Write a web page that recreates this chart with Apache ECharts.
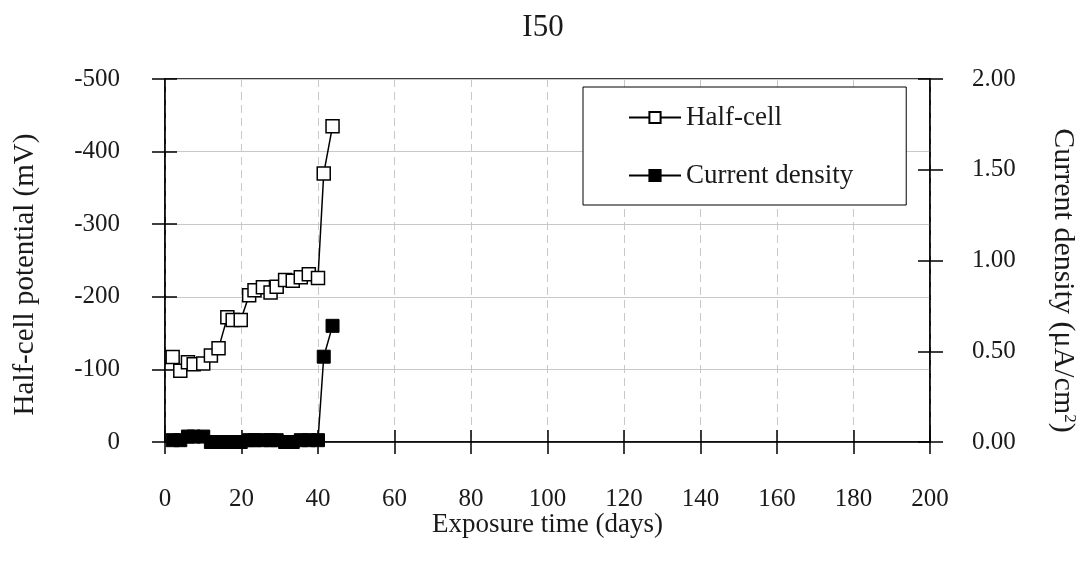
<!DOCTYPE html>
<html>
<head>
<meta charset="utf-8">
<script src="https://cdn.jsdelivr.net/npm/echarts@6/dist/echarts.min.js"></script>
<style>
  html, body { margin: 0; padding: 0; background: #fff; }
  #chart { width: 1086px; height: 574px; }
</style>
</head>
<body>
<div id="chart"></div>
<script>
// exposure days of each reading
const days = [2, 4, 6, 7.5, 10, 12, 14, 16.3, 17.7, 19.8, 22, 23.4, 25.6, 27.6, 29.2, 31.4, 33.4, 35.5, 37.6, 40, 41.5, 43.8]
// half-cell potential, mV
const halfCell = [-117, -98, -110, -107, -108, -119, -129, -172, -168, -168, -202, -209, -213, -206, -214, -223, -222, -227, -231, -226, -370, -435]
// current density, uA/cm2
const currentDensity = [0.01, 0.01, 0.03, 0.03, 0.03, 0, 0, 0, 0, 0, 0.01, 0.01, 0.01, 0.01, 0.01, 0, 0, 0.01, 0.01, 0.01, 0.47, 0.64]

const FONT = 'Liberation Serif'
const TXT = '#1a1a1a'

const pairs = (xs, ys) => xs.map((x, i) => [x, ys[i]])

const chart = echarts.init(document.getElementById('chart'))

// second copy of an axis, only to draw the inner half of the crossing ticks
const tickOnly = (extra) => Object.assign({
  type: 'value',
  axisLine: { show: false },
  axisLabel: { show: false },
  splitLine: { show: false },
  axisTick: { show: true, inside: true, length: 12, lineStyle: { color: '#000', width: 1.5 } }
}, extra)

chart.setOption({
  animation: false,
  title: {
    text: 'I50',
    left: 'center',
    top: 7,
    textStyle: { fontFamily: FONT, fontSize: 31, fontWeight: 'normal', color: TXT }
  },
  legend: {
    orient: 'vertical',
    left: 583,
    top: 87,
    padding: [17, 53, 16, 45],
    itemGap: 31,
    itemWidth: 52,
    itemHeight: 14,
    borderColor: '#000',
    borderWidth: 1,
    backgroundColor: '#fff',
    textStyle: { fontFamily: FONT, fontSize: 27, color: TXT },
    data: ['Half-cell', 'Current density']
  },
  grid: {
    left: 165, right: 156, top: 79, bottom: 132,
    show: true, borderColor: '#000', borderWidth: 1.5
  },
  xAxis: [{
    type: 'value',
    min: 0, max: 200, interval: 20,
    name: 'Exposure time (days)',
    nameLocation: 'middle',
    nameGap: 69,
    nameMoveOverlap: false,
    nameTextStyle: { fontFamily: FONT, fontSize: 27, color: TXT },
    axisLine: { lineStyle: { color: '#000', width: 1.5 } },
    axisTick: { length: 12, lineStyle: { color: '#000', width: 1.5 } },
    axisLabel: { margin: 45, fontFamily: FONT, fontSize: 25, color: TXT },
    splitLine: { show: true, lineStyle: { color: '#c8c8c8', type: [8, 5], width: 1 } }
  }, tickOnly({ min: 0, max: 200, interval: 20, position: 'bottom' })],
  yAxis: [{
    type: 'value',
    inverse: true,
    min: -500, max: 0, interval: 100,
    position: 'left',
    name: 'Half-cell potential (mV)',
    nameLocation: 'middle',
    nameGap: 125,
    nameTextStyle: { fontFamily: FONT, fontSize: 29, color: TXT, padding: [0, 28, 0, 0] },
    axisLine: { show: true, lineStyle: { color: '#000', width: 1.5 } },
    axisTick: { show: true, length: 13, lineStyle: { color: '#000', width: 1.5 } },
    axisLabel: { margin: 45, fontFamily: FONT, fontSize: 25, color: TXT },
    splitLine: { show: true, lineStyle: { color: '#c8c8c8', width: 1 } }
  }, tickOnly({ inverse: true, min: -500, max: 0, interval: 100, position: 'left' }), {
    type: 'value',
    min: 0, max: 2, interval: 0.5,
    position: 'right',
    name: 'Current density (μA/cm{sup|2})',
    nameLocation: 'middle',
    nameRotate: -90,
    nameGap: 118,
    nameTextStyle: {
      fontFamily: FONT, fontSize: 30, color: TXT, padding: [0, 0, 0, 40],
      rich: { sup: { fontFamily: FONT, fontSize: 17, color: TXT, verticalAlign: 'top', padding: [0, 0, 11, 0] } }
    },
    axisLine: { show: true, lineStyle: { color: '#000', width: 1.5 } },
    axisTick: { show: true, length: 13, lineStyle: { color: '#000', width: 1.5 } },
    axisLabel: { margin: 42, fontFamily: FONT, fontSize: 25, color: TXT, formatter: v => v.toFixed(2) },
    splitLine: { show: false }
  }, tickOnly({ min: 0, max: 2, interval: 0.5, position: 'right' })],
  series: [{
    name: 'Half-cell',
    type: 'line',
    xAxisIndex: 0,
    yAxisIndex: 0,
    data: pairs(days, halfCell),
    symbol: 'rect',
    symbolSize: 13,
    itemStyle: { color: '#fff', borderColor: '#000', borderWidth: 1.5 },
    lineStyle: { color: '#000', width: 1.5 },
    z: 3
  }, {
    name: 'Current density',
    type: 'line',
    xAxisIndex: 0,
    yAxisIndex: 2,
    data: pairs(days, currentDensity),
    symbol: 'rect',
    symbolSize: 13,
    itemStyle: { color: '#000', borderColor: '#000', borderWidth: 1 },
    lineStyle: { color: '#000', width: 1.5 },
    z: 4
  }]
})
</script>
</body>
</html>
